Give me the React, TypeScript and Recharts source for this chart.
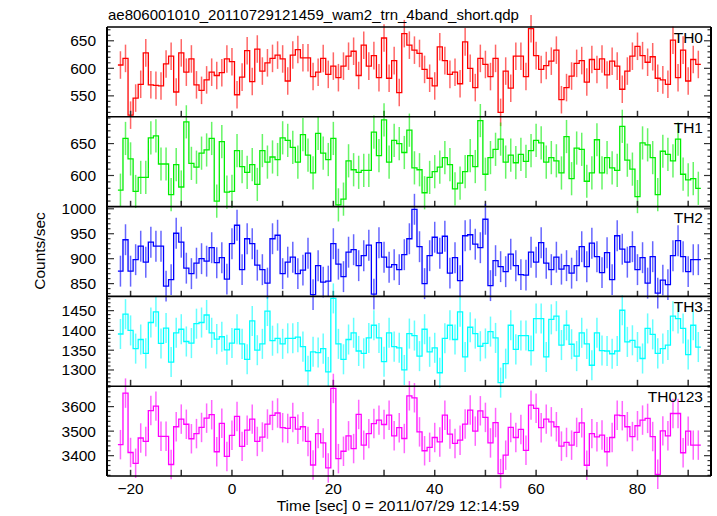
import { ComposedChart, Line, XAxis, YAxis, ErrorBar } from 'recharts';

// 1 s bins, first bin centre at t = -22 s
const T_START = -22;

const TH0 = [
  606, 618, 515, 546, 571, 628, 570, 569, 568, 608, 622, 557, 628, 593, 617, 570, 560, 579, 593, 587, 592, 617,
  612, 552, 584, 632, 576, 635, 595, 610, 618, 624, 617, 577, 624, 634, 619, 619, 585, 593, 618, 589, 604, 583,
  604, 622, 631, 587, 642, 604, 623, 583, 655, 582, 614, 556, 663, 642, 633, 627, 598, 582, 568, 639, 614, 589,
  593, 572, 648, 600, 565, 618, 607, 585, 618, 520, 595, 564, 622, 622, 585, 672, 623, 598, 605, 613, 633, 543,
  565, 586, 609, 614, 575, 616, 598, 617, 588, 613, 604, 562, 595, 622, 640, 623, 611, 621, 582, 579, 571, 651,
  583, 633, 577, 616, 607,
];

const TH1 = [
  577, 658, 626, 575, 597, 597, 659, 662, 618, 618, 570, 617, 582, 684, 619, 613, 635, 640, 658, 560, 653, 574,
  575, 639, 614, 605, 617, 586, 639, 621, 629, 625, 659, 655, 644, 621, 664, 632, 604, 666, 635, 625, 658, 554,
  563, 623, 609, 605, 608, 608, 668, 631, 687, 621, 655, 650, 636, 671, 612, 609, 573, 597, 606, 613, 628, 617,
  579, 588, 606, 631, 614, 686, 602, 628, 641, 657, 621, 632, 620, 633, 622, 639, 655, 651, 621, 628, 623, 604,
  661, 595, 643, 641, 591, 604, 656, 604, 628, 612, 608, 677, 624, 610, 567, 651, 648, 628, 570, 638, 633, 623,
  657, 602, 593, 595, 580,
];

const TH2 = [
  875, 938, 875, 898, 925, 893, 933, 925, 925, 845, 858, 951, 933, 881, 870, 891, 900, 895, 922, 892, 902, 859,
  930, 967, 878, 940, 930, 887, 878, 851, 940, 947, 870, 893, 903, 870, 877, 911, 828, 886, 853, 855, 930, 889,
  864, 913, 918, 886, 906, 927, 829, 932, 903, 883, 888, 878, 908, 940, 999, 924, 850, 906, 943, 911, 945, 871,
  902, 856, 946, 948, 929, 922, 979, 846, 896, 884, 874, 909, 886, 868, 867, 913, 893, 932, 891, 878, 903, 879,
  886, 871, 886, 924, 884, 931, 904, 872, 912, 858, 946, 919, 893, 924, 878, 902, 851, 904, 831, 857, 848, 906,
  936, 904, 874, 898, 898,
];

const TH3 = [
  1391, 1441, 1400, 1354, 1377, 1342, 1420, 1447, 1367, 1406, 1320, 1394, 1403, 1372, 1368, 1417, 1420, 1439,
  1394, 1378, 1384, 1351, 1368, 1403, 1366, 1327, 1424, 1350, 1366, 1449, 1374, 1380, 1366, 1380, 1380, 1383,
  1359, 1298, 1346, 1344, 1354, 1295, 1481, 1366, 1327, 1377, 1394, 1348, 1342, 1381, 1413, 1381, 1321, 1394,
  1359, 1356, 1300, 1392, 1387, 1335, 1403, 1346, 1356, 1293, 1380, 1413, 1377, 1447, 1333, 1408, 1392, 1360,
  1367, 1397, 1381, 1268, 1316, 1413, 1352, 1387, 1387, 1349, 1430, 1430, 1333, 1428, 1436, 1363, 1413, 1365,
  1335, 1394, 1366, 1312, 1394, 1349, 1348, 1341, 1348, 1451, 1371, 1375, 1358, 1329, 1405, 1390, 1342, 1354,
  1363, 1436, 1430, 1405, 1339, 1413, 1358,
];

const TH0123 = [
  3445, 3655, 3413, 3369, 3472, 3458, 3584, 3602, 3479, 3479, 3364, 3518, 3549, 3528, 3469, 3490, 3515, 3553,
  3567, 3416, 3532, 3397, 3483, 3560, 3438, 3504, 3549, 3458, 3476, 3529, 3564, 3574, 3514, 3511, 3556, 3508,
  3518, 3458, 3362, 3490, 3452, 3350, 3674, 3388, 3418, 3481, 3429, 3568, 3443, 3490, 3531, 3545, 3527, 3565,
  3481, 3514, 3470, 3644, 3636, 3497, 3420, 3434, 3474, 3456, 3565, 3488, 3450, 3463, 3529, 3586, 3500, 3583,
  3556, 3452, 3535, 3327, 3402, 3515, 3474, 3507, 3422, 3606, 3593, 3514, 3549, 3538, 3518, 3439, 3454, 3443,
  3495, 3534, 3361, 3490, 3477, 3484, 3416, 3474, 3565, 3563, 3518, 3478, 3522, 3545, 3552, 3478, 3324, 3501,
  3481, 3572, 3572, 3412, 3500, 3443, 3443,
];

const X_TICKS = [-20, -10, 0, 10, 20, 30, 40, 50, 60, 70, 80, 90];

const FONT = '"Liberation Sans", Arial, Helvetica, sans-serif';
const FRAME = '#000';

interface PanelCfg {
  name: string;
  values: number[];
  err: number;
  color: string;
  domain: [number, number];
  major: number[];
  minorStep: number;
}

const panels: PanelCfg[] = [
  { name: 'TH0', values: TH0, err: 25, color: '#ff0000', domain: [512, 675], major: [550, 600, 650], minorStep: 10 },
  { name: 'TH1', values: TH1, err: 26, color: '#00ee00', domain: [551, 691.6], major: [600, 650], minorStep: 10 },
  { name: 'TH2', values: TH2, err: 31, color: '#0000ff', domain: [823.6, 1003.6], major: [850, 900, 950, 1000], minorStep: 10 },
  { name: 'TH3', values: TH3, err: 38, color: '#00ffff', domain: [1260, 1487], major: [1300, 1350, 1400, 1450], minorStep: 10 },
  { name: 'TH0123', values: TH0123, err: 60, color: '#ff00ff', domain: [3318, 3684], major: [3400, 3500, 3600], minorStep: 20 },
];

const PLOT_LEFT = 107;
const PLOT_RIGHT = 711;
const PANEL_TOP = 27;
const PANEL_H = 89.8;
const X_DOMAIN: [number, number] = [-24.65, 94.5];

const fmt = (v: number) => (v < 0 ? `\u2212${-v}` : `${v}`);

function yTicks(cfg: PanelCfg) {
  const out: number[] = [];
  const start = Math.ceil(cfg.domain[0] / cfg.minorStep) * cfg.minorStep;
  for (let v = start; v <= cfg.domain[1]; v += cfg.minorStep) out.push(v);
  return out;
}

function Panel({ cfg, index }: { cfg: PanelCfg; index: number }) {
  const last = index === panels.length - 1;
  const bottomH = last ? 40 : 1;
  const top = PANEL_TOP + index * PANEL_H - 1;

  const errRows = cfg.values.map((v, i) => ({ t: T_START + i, v, e: cfg.err }));
  const stepRows = [
    { t: T_START - 0.5, v: cfg.values[0] },
    ...errRows.map(r => ({ t: r.t, v: r.v })),
    { t: T_START + cfg.values.length - 0.5, v: cfg.values[cfg.values.length - 1] },
  ];

  const isMajor = (v: number) => cfg.major.includes(v);

  const bottomTick = (p: any) => {
    const { x, y, payload } = p;
    return (
      <g>
        <line x1={x} y1={y} x2={x} y2={y - 6} stroke="#333" strokeWidth={1.5} />
        {last && payload.value % 20 === 0 && (
          <text x={x} y={y + 18} textAnchor="middle" fontSize={15.5} fontFamily={FONT} fill="#000">
            {fmt(payload.value)}
          </text>
        )}
      </g>
    );
  };
  const topTick = (p: any) => (
    <line x1={p.x} y1={p.y} x2={p.x} y2={p.y + 6} stroke="#333" strokeWidth={1.5} />
  );
  const leftTick = (p: any) => {
    const { x, y, payload } = p;
    const major = isMajor(payload.value);
    return (
      <g>
        <line x1={x} y1={y} x2={x + (major ? 7 : 3.5)} y2={y} stroke="#333" strokeWidth={1.2} />
        {major && (
          <text x={x - 11} y={y + 5.5} textAnchor="end" fontSize={15.5} fontFamily={FONT} fill="#000">
            {payload.value}
          </text>
        )}
      </g>
    );
  };
  const rightTick = (p: any) => {
    const major = isMajor(p.payload.value);
    return <line x1={p.x} y1={p.y} x2={p.x - (major ? 7 : 3.5)} y2={p.y} stroke="#333" strokeWidth={1.2} />;
  };

  const ticks = yTicks(cfg);

  return (
    <div style={{ position: 'absolute', left: 0, top }}>
      <ComposedChart width={717} height={PANEL_H + 1 + bottomH} margin={{ top: 0, right: 0, bottom: 0, left: 0 }}>
        <XAxis
          xAxisId="b"
          type="number"
          dataKey="t"
          domain={X_DOMAIN}
          allowDataOverflow
          ticks={X_TICKS}
          interval={0}
          height={bottomH}
          tickSize={0}
          tickMargin={0}
          tickLine={false}
          axisLine={false}
          tick={bottomTick}
        />
        <XAxis
          xAxisId="t"
          orientation="top"
          type="number"
          domain={X_DOMAIN}
          allowDataOverflow
          ticks={X_TICKS}
          interval={0}
          height={1}
          tickSize={0}
          tickMargin={0}
          tickLine={false}
          axisLine={false}
          tick={topTick}
        />
        <YAxis
          yAxisId="l"
          type="number"
          domain={cfg.domain}
          allowDataOverflow
          ticks={ticks}
          interval={0}
          width={PLOT_LEFT}
          tickSize={0}
          tickMargin={0}
          tickLine={false}
          axisLine={false}
          tick={leftTick}
        />
        <YAxis
          yAxisId="r"
          orientation="right"
          type="number"
          domain={cfg.domain}
          allowDataOverflow
          ticks={ticks}
          interval={0}
          width={717 - PLOT_RIGHT}
          tickSize={0}
          tickMargin={0}
          tickLine={false}
          axisLine={false}
          tick={rightTick}
        />
        <Line
          xAxisId="b"
          yAxisId="l"
          data={errRows}
          dataKey="v"
          stroke="none"
          dot={false}
          activeDot={false}
          isAnimationActive={false}
        >
          <ErrorBar dataKey="e" width={0} direction="y" stroke={cfg.color} strokeWidth={1.5} strokeOpacity={0.6} isAnimationActive={false} />
        </Line>
        <Line
          xAxisId="b"
          yAxisId="l"
          data={stepRows}
          type="step"
          dataKey="v"
          stroke={cfg.color}
          strokeWidth={1.3}
          dot={false}
          activeDot={false}
          isAnimationActive={false}
        />
      </ComposedChart>
    </div>
  );
}

export default function App() {
  return (
    <div style={{ position: 'absolute', left: 0, top: 0, width: 717, height: 516, background: '#fff', overflow: 'hidden' }}>
      <style>{'.recharts-surface{overflow:visible}'}</style>
      {panels.map((cfg, i) => (
        <Panel key={cfg.name} cfg={cfg} index={i} />
      ))}
      <svg width={717} height={516} style={{ position: 'absolute', left: 0, top: 0, pointerEvents: 'none' }}>
        {/* panel frames: the two vertical sides, then one horizontal line per panel edge */}
        <line x1={PLOT_LEFT} y1={PANEL_TOP} x2={PLOT_LEFT} y2={PANEL_TOP + panels.length * PANEL_H} stroke={FRAME} strokeWidth={2} />
        <line x1={PLOT_RIGHT} y1={PANEL_TOP} x2={PLOT_RIGHT} y2={PANEL_TOP + panels.length * PANEL_H} stroke={FRAME} strokeWidth={2} />
        {Array.from({ length: panels.length + 1 }, (_, i) => (
          <line
            key={`h-${i}`}
            x1={PLOT_LEFT}
            y1={PANEL_TOP + i * PANEL_H}
            x2={PLOT_RIGHT}
            y2={PANEL_TOP + i * PANEL_H}
            stroke={FRAME}
            strokeWidth={1.6}
          />
        ))}
        <text x={108} y={20} fontSize={15} fontFamily={FONT} fill="#000">
          ae806001010_20110729121459_wam2_trn_4band_short.qdp
        </text>
        {panels.map((cfg, i) => (
          <text
            key={cfg.name}
            x={703}
            y={PANEL_TOP + i * PANEL_H + 16}
            textAnchor="end"
            fontSize={15.5}
            fontFamily={FONT}
            fill="#000"
          >
            {cfg.name}
          </text>
        ))}
        <text
          x={45}
          y={251}
          transform="rotate(-90 45 251)"
          textAnchor="middle"
          fontSize={15.5}
          fontFamily={FONT}
          fill="#000"
        >
          Counts/sec
        </text>
        <text x={398} y={511} textAnchor="middle" fontSize={15.5} fontFamily={FONT} fill="#000">
          Time [sec] 0 = 2011/07/29 12:14:59
        </text>
      </svg>
    </div>
  );
}
